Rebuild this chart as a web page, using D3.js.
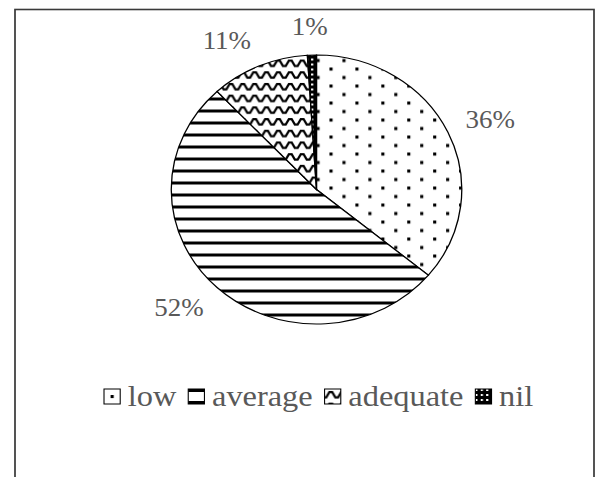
<!DOCTYPE html>
<html>
<head>
<meta charset="utf-8">
<script src="https://cdn.jsdelivr.net/npm/d3@7"></script>
<style>
  html, body { margin: 0; padding: 0; background: #fff; }
  svg { display: block; }
</style>
</head>
<body>
<div id="chart"></div>
<script>
var categories = ["low", "average", "adequate", "nil"];
var percents = [36, 52, 11, 1];
var fills = ["dots", "stripes", "wave", "dark"];

var width = 600,
    height = 477,
    stretch = 1.08,            // the source picture is a bit wider than tall
    vbWidth = width / stretch,
    cx = 316.5 / stretch,
    cy = 189.5,
    radius = 134.5,
    labelGap = 18,
    legendY = 406,
    boxSize = 15;

var svg = d3.select("#chart")
    .append("svg")
    .attr("width", width)
    .attr("height", height)
    .attr("viewBox", "0 0 " + vbWidth + " " + height)
    .attr("preserveAspectRatio", "none");

var defs = svg.append("defs");

// hatch fills, one per slice; x / y shift the tile so legend boxes line up
function makePattern(id, type, x, y) {
    var p = defs.append("pattern")
        .attr("id", id)
        .attr("patternUnits", "userSpaceOnUse")
        .attr("x", x)
        .attr("y", y);
    if (type == "dots") {
        p.attr("width", 24).attr("height", 17);
        p.append("rect").attr("width", 24).attr("height", 17).attr("fill", "#fff");
        p.append("rect").attr("x", 0).attr("y", 0).attr("width", 2.9).attr("height", 3.1).attr("fill", "#000");
        p.append("rect").attr("x", 12).attr("y", 8.5).attr("width", 2.9).attr("height", 3.1).attr("fill", "#000");
    }
    else if (type == "stripes") {
        p.attr("width", 8).attr("height", 12);
        p.append("rect").attr("width", 8).attr("height", 12).attr("fill", "#fff");
        p.append("rect").attr("width", 8).attr("height", 3).attr("fill", "#000");
    }
    else if (type == "wave") {
        p.attr("width", 11).attr("height", 11.7);
        p.append("rect").attr("width", 11).attr("height", 11.7).attr("fill", "#fff");
        p.append("path")
            .attr("d", "M-1,8.5 L1.5,8.5 L4.5,3 L7,3 L10,8.5 L12.5,8.5")
            .attr("fill", "none")
            .attr("stroke", "#000")
            .attr("stroke-width", 2.2);
    }
    else {
        p.attr("width", 5).attr("height", 5);
        p.append("rect").attr("width", 5).attr("height", 5).attr("fill", "#000");
        p.append("rect").attr("x", 0).attr("y", 0).attr("width", 2).attr("height", 2).attr("fill", "#fff");
    }
}

fills.forEach(function (f) {
    makePattern("pie-" + f, f, 300, 184);
});

var data = categories.map(function (c, i) {
    return {label: c, value: percents[i], fill: fills[i]};
});

// frame (bottom edge runs off the picture)
svg.append("rect")
    .attr("x", 15 / stretch)
    .attr("y", 9.5)
    .attr("width", (594 - 15) / stretch)
    .attr("height", 520)
    .attr("fill", "none")
    .attr("stroke", "#3a3a3a")
    .attr("stroke-width", 1.6);

var pie = d3.pie()
    .sort(null)
    .value(function (d) { return d.value; });

var arc = d3.arc()
    .innerRadius(0)
    .outerRadius(radius);

var g = svg.append("g")
    .attr("transform", "translate(" + cx + "," + cy + ")");

var arcs = pie(data);

g.selectAll(".slice")
    .data(arcs)
    .enter().append("path")
    .attr("class", "slice")
    .attr("d", arc)
    .attr("fill", function (d) { return "url(#pie-" + d.data.fill + ")"; })
    .attr("stroke", "#000")
    .attr("stroke-width", 1.2);

// percentage labels just outside the rim
var labels = g.selectAll(".pct")
    .data(arcs)
    .enter().append("text")
    .attr("class", "pct")
    .attr("text-anchor", "middle")
    .attr("dominant-baseline", "central")
    .style("font-family", "'Liberation Serif', 'Times New Roman', serif")
    .style("font-size", "25px")
    .style("fill", "#595959")
    .text(function (d) { return d.data.value + "%"; });

labels.each(function (d) {
    var a = (d.startAngle + d.endAngle) / 2,
        ux = Math.sin(a),
        uy = -Math.cos(a),
        w = this.getComputedTextLength() / 2,
        h = 10;
    var px = ux * (radius + labelGap) + Math.sign(ux) * Math.min(1, Math.abs(ux) * 3) * w,
        py = uy * (radius + labelGap) + uy * h;
    d3.select(this).attr("x", px).attr("y", py);
});

// legend
var legend = svg.append("g").attr("class", "legend");

var items = legend.selectAll(".item")
    .data(data)
    .enter().append("g")
    .attr("class", "item");

var legText = items.append("text")
    .attr("y", legendY)
    .style("font-family", "'Liberation Serif', 'Times New Roman', serif")
    .style("font-size", "30px")
    .style("fill", "#595959")
    .text(function (d) { return d.label; });

var widths = [];
legText.each(function () { widths.push(this.getComputedTextLength()); });

var boxGap = 7, itemGap = 11;
var total = d3.sum(widths) + data.length * (boxSize + boxGap) + (data.length - 1) * itemGap;
var xPos = cx + 2 - total / 2;

items.each(function (d, i) {
    var item = d3.select(this);
    var bx = xPos, by = legendY - 17;
    makePattern("leg-" + d.fill, d.fill,
        d.fill == "dots" ? bx + boxSize / 2 - 1.4 : bx,
        d.fill == "dots" ? by + boxSize / 2 - 1.5 : by);
    item.insert("rect", "text")
        .attr("x", bx)
        .attr("y", by)
        .attr("width", boxSize)
        .attr("height", boxSize)
        .attr("fill", "url(#leg-" + d.fill + ")")
        .attr("stroke", "#000")
        .attr("stroke-width", 1);
    item.select("text").attr("x", bx + boxSize + boxGap);
    xPos += boxSize + boxGap + widths[i] + itemGap;
});
</script>
</body>
</html>
